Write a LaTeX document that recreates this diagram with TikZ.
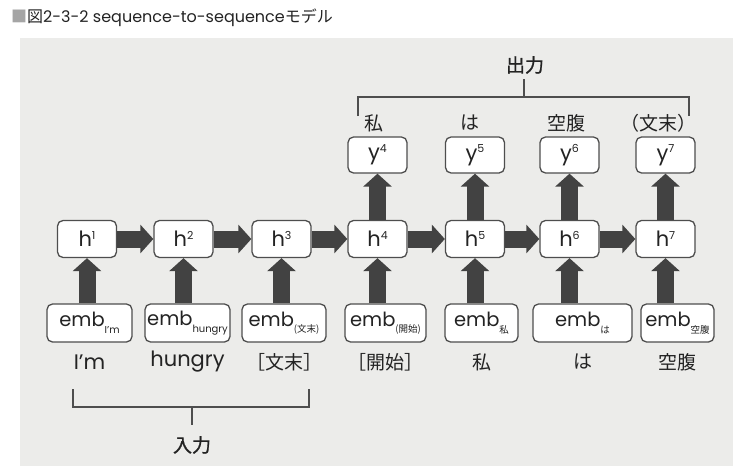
\documentclass[tikz,border=0pt]{standalone}
\usepackage{fontspec}
\setmainfont{Poppins}
\newfontfamily\jp{Noto Sans CJK JP}
\newfontfamily\jpm[FakeBold=0.9]{Noto Sans CJK JP}
\usetikzlibrary{arrows.meta}
\definecolor{bg}{RGB}{236,236,234}
\definecolor{ink}{RGB}{66,66,66}
\definecolor{boxline}{RGB}{78,78,78}
\definecolor{txt}{RGB}{35,35,35}
\definecolor{mark}{RGB}{165,165,165}
\newcommand\supnum[1]{\raisebox{7.5pt}{\fontsize{11}{11}\selectfont #1}}
\newcommand\subtxt[1]{\raisebox{-6.5pt}{\fontsize{10}{10}\selectfont #1}}
\newcommand\subjp[1]{\raisebox{-6.5pt}{\fontsize{9.5}{9.5}\selectfont\jp #1}}
\tikzset{
  cell/.style={draw=boxline, line width=1.3pt, fill=white, rounded corners=5.5pt,
    minimum height=37pt, inner sep=0pt, text=txt, font=\fontsize{21}{21}\selectfont},
  hcell/.style={cell, minimum width=59pt},
  embcell/.style={cell, minimum height=38pt, font=\fontsize{19.5}{19.5}\selectfont},
  blockarrow/.style={draw=ink, line width=17pt, -{Triangle[width=28pt,length=13pt]}},
  word/.style={text=txt, font=\fontsize{21}{21}\selectfont, inner sep=0pt},
  jpword/.style={text=txt, font=\fontsize{19}{19}\selectfont\jp, inner sep=0pt},
  jphead/.style={jpword, font=\fontsize{19}{19}\selectfont\jpm},
  bracket/.style={draw=boxline, line width=1.3pt},
}
\begin{document}
\begin{tikzpicture}[x=1pt,y=-1pt]
\useasboundingbox (0,0) rectangle (745,466);
\fill[bg] (20,38) rectangle (733,466);
% title
\node[anchor=base west, inner sep=0pt, text=txt, font=\fontsize{16}{16}\selectfont] (title) at (11,22.5)
  {{\jp\color{mark}■}{\jp 図}2-3-2 sequence-to-sequence{\jp モデル}};
% h cells
\node[hcell] (h1) at (87,239) {h\supnum{1}};
\node[hcell] (h2) at (183.5,239) {h\supnum{2}};
\node[hcell] (h3) at (281.5,239) {h\supnum{3}};
\node[hcell] (h4) at (377.5,239) {h\supnum{4}};
\node[hcell] (h5) at (475,239) {h\supnum{5}};
\node[hcell] (h6) at (569.5,239) {h\supnum{6}};
\node[hcell] (h7) at (665.5,239) {h\supnum{7}};
% y cells
\node[hcell, minimum height=36pt] (y4) at (377.5,155) {y\supnum{4}};
\node[hcell, minimum height=36pt] (y5) at (475,155) {y\supnum{5}};
\node[hcell, minimum height=36pt] (y6) at (569.5,155) {y\supnum{6}};
\node[hcell, minimum height=36pt] (y7) at (665.5,155) {y\supnum{7}};
% emb cells
\node[embcell, minimum width=85pt] (e1) at (89.5,323) {emb\subtxt{I'm}};
\node[embcell, minimum width=85pt] (e2) at (187.5,323) {emb\subtxt{hungry}};
\node[embcell, minimum width=84pt] (e3) at (284,323) {emb\subjp{(文末)}};
\node[embcell, minimum width=81pt] (e4) at (385.5,323) {emb\subjp{(開始)}};
\node[embcell, minimum width=73pt] (e5) at (481.5,323) {emb\subjp{私}};
\node[embcell, minimum width=99pt] (e6) at (582.5,323) {emb\subjp{は}};
\node[embcell, minimum width=73pt] (e7) at (677.5,323) {emb\subjp{空腹}};
% horizontal arrows
\draw[blockarrow] (h1.east) -- (h2.west);
\draw[blockarrow] (h2.east) -- (h3.west);
\draw[blockarrow] (h3.east) -- (h4.west);
\draw[blockarrow] (h4.east) -- (h5.west);
\draw[blockarrow] (h5.east) -- (h6.west);
\draw[blockarrow] (h6.east) -- (h7.west);
% vertical arrows emb -> h
\draw[blockarrow] (e1.north -| h1) -- (h1.south);
\draw[blockarrow] (e2.north -| h2) -- (h2.south);
\draw[blockarrow] (e3.north -| h3) -- (h3.south);
\draw[blockarrow] (e4.north -| h4) -- (h4.south);
\draw[blockarrow] (e5.north -| h5) -- (h5.south);
\draw[blockarrow] (e6.north -| h6) -- (h6.south);
\draw[blockarrow] (e7.north -| h7) -- (h7.south);
% vertical arrows h -> y
\draw[blockarrow] (h4.north) -- (y4.south);
\draw[blockarrow] (h5.north) -- (y5.south);
\draw[blockarrow] (h6.north) -- (y6.south);
\draw[blockarrow] (h7.north) -- (y7.south);
% output labels
\node[jpword] (o4) at (374,123) {私};
\node[jpword] (o5) at (470,123) {は};
\node[jpword] (o6) at (566,123) {空腹};
\node[jpword] (o7) at (658,123) {（文末）};
% input words
\node[word] (w1) at (89.5,362) {I'm};
\node[word] (w2) at (187.5,362) {hungry};
\node[jpword] (w3) at (284,362) {［文末］};
\node[jpword] (w4) at (385.5,362) {［開始］};
\node[jpword] (w5) at (481.5,362) {私};
\node[jpword] (w6) at (582.5,362) {は};
\node[jpword] (w7) at (677.5,362) {空腹};
% output bracket
\coordinate (ob1) at (358,116);
\coordinate (ob2) at (689,116);
\coordinate (obm) at (524,97);
\node[jphead] (out) at (525,65) {出力};
\draw[bracket] (ob1) |- (obm) -| (ob2);
\draw[bracket] (obm) -- (obm |- 0,79);
% input bracket
\coordinate (ib1) at (73,389);
\coordinate (ib2) at (309,389);
\coordinate (ibm) at (192,407);
\node[jphead] (in) at (192,445) {入力};
\draw[bracket] (ib1) |- (ibm) -| (ib2);
\draw[bracket] (ibm) -- (ibm |- 0,425);
\end{tikzpicture}
\end{document}
